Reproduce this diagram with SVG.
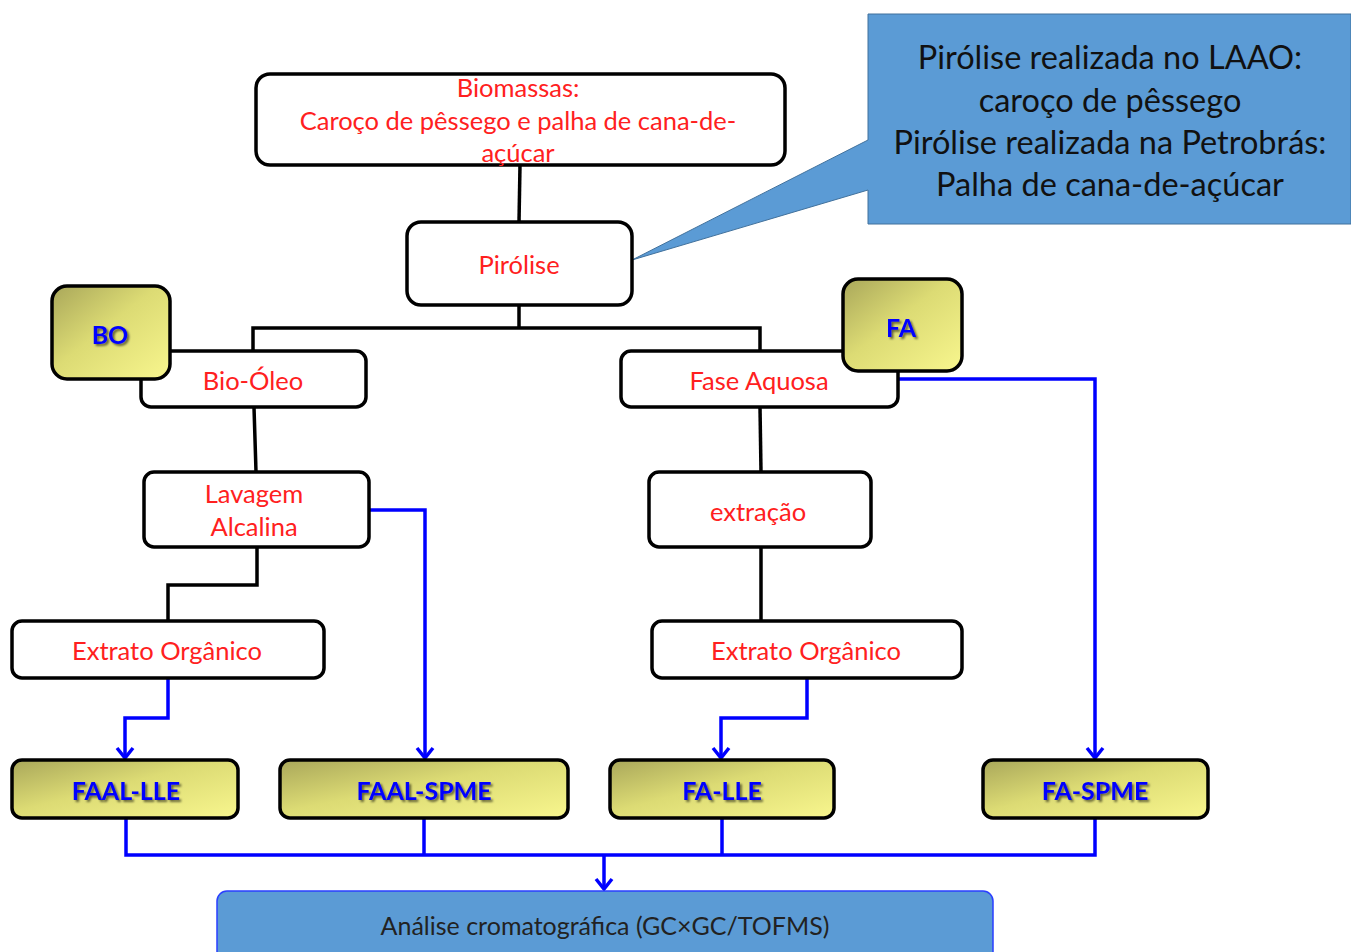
<svg xmlns="http://www.w3.org/2000/svg" width="1351" height="952" viewBox="0 0 1351 952">
<defs>
<linearGradient id="olive" x1="0" y1="0" x2="1" y2="1">
<stop offset="0" stop-color="#a9a75a"/>
<stop offset="0.45" stop-color="#dcdb74"/>
<stop offset="1" stop-color="#f8f68e"/>
</linearGradient>
<filter id="sh" x="-20%" y="-20%" width="140%" height="140%">
<feGaussianBlur in="SourceAlpha" stdDeviation="1"/>
<feOffset dx="1.5" dy="1.5" result="b"/>
<feFlood flood-color="#000" flood-opacity="0.55"/>
<feComposite in2="b" operator="in"/>
<feMerge><feMergeNode/><feMergeNode in="SourceGraphic"/></feMerge>
</filter>
<marker id="arr" viewBox="0 0 16 20" refX="14" refY="10" markerWidth="16" markerHeight="20" markerUnits="userSpaceOnUse" orient="auto">
<path d="M4,2 L14,10 L4,18" fill="none" stroke="#0000ff" stroke-width="3.5"/>
</marker>
<style>
.box{fill:#fff;stroke:#000;stroke-width:3.5}
.ol{fill:url(#olive);stroke:#000;stroke-width:3.5}
.red{font-family:Lato,"Open Sans",sans-serif;font-size:25.5px;fill:#ff2020;text-anchor:middle;dominant-baseline:central}
.bl{font-family:Lato,"Open Sans",sans-serif;font-size:25px;font-weight:bold;fill:#0000ff;text-anchor:middle;dominant-baseline:central;filter:url(#sh)}
.call{font-family:Lato,"Open Sans",sans-serif;font-size:32.5px;fill:#111;text-anchor:middle;dominant-baseline:central}
.k{fill:none;stroke:#000;stroke-width:3.5}
.b{fill:none;stroke:#0000ff;stroke-width:3.5}
</style>
</defs>
<g id="connectors">
<path class="k" d="M520,165 L519,222"/>
<path class="k" d="M519,305 L519,328 M253,351 L253,328 L760,328 L760,351"/>
<path class="k" d="M254,407 L256,472"/>
<path class="k" d="M257,547 L257,585 L168,585 L168,621"/>
<path class="k" d="M760,407 L761,472"/>
<path class="k" d="M761,547 L761,621"/>
<path class="b" d="M168,678 L168,718 L125,718 L125,758" marker-end="url(#arr)"/>
<path class="b" d="M369,510 L425,510 L425,758" marker-end="url(#arr)"/>
<path class="b" d="M807,678 L807,718 L721,718 L721,758" marker-end="url(#arr)"/>
<path class="b" d="M898,379 L1095,379 L1095,758" marker-end="url(#arr)"/>
<path class="b" d="M126,818 L126,855 L1095,855 L1095,818 M424,818 L424,855 M722,818 L722,855"/>
<path class="b" d="M604,855 L604,889" marker-end="url(#arr)"/>
</g>
<g id="callout">
<path d="M868,14 L1351,14 L1351,224 L868,224 L868,190 L632,260 L868,140 Z" fill="#5b9bd5" stroke="#41719c" stroke-width="1"/>
<text class="call" x="1110" y="56">Pirólise realizada no LAAO:</text>
<text class="call" x="1110" y="99">caroço de pêssego</text>
<text class="call" x="1110" y="141">Pirólise realizada na Petrobrás:</text>
<text class="call" x="1110" y="183">Palha de cana-de-açúcar</text>
</g>
<g id="biomassas">
<rect class="box" x="256" y="74" width="529" height="91" rx="14"/>
<text class="red" x="518" y="87">Biomassas:</text>
<text class="red" x="518" y="120">Caroço de pêssego e palha de cana-de-</text>
<text class="red" x="518" y="152">açúcar</text>
</g>
<g id="pirolise">
<rect class="box" x="407" y="222" width="225" height="83" rx="14"/>
<text class="red" x="519" y="264">Pirólise</text>
</g>
<g id="bio-oleo">
<rect class="box" x="141" y="351" width="225" height="56" rx="10"/>
<text class="red" x="253" y="380">Bio-Óleo</text>
</g>
<g id="bo">
<rect class="ol" x="52" y="286" width="118" height="93" rx="15"/>
<text class="bl" x="110" y="334">BO</text>
</g>
<g id="fase-aquosa">
<rect class="box" x="621" y="351" width="277" height="56" rx="10"/>
<text class="red" x="759" y="380">Fase Aquosa</text>
</g>
<g id="fa">
<rect class="ol" x="843" y="279" width="119" height="92" rx="15"/>
<text class="bl" x="901" y="327">FA</text>
</g>
<g id="lavagem">
<rect class="box" x="144" y="472" width="225" height="75" rx="10"/>
<text class="red" x="254" y="493">Lavagem</text>
<text class="red" x="254" y="526">Alcalina</text>
</g>
<g id="extracao">
<rect class="box" x="649" y="472" width="222" height="75" rx="10"/>
<text class="red" x="758" y="511">extração</text>
</g>
<g id="extrato-left">
<rect class="box" x="12" y="621" width="312" height="57" rx="10"/>
<text class="red" x="167" y="650">Extrato Orgânico</text>
</g>
<g id="extrato-right">
<rect class="box" x="652" y="621" width="310" height="57" rx="10"/>
<text class="red" x="806" y="650">Extrato Orgânico</text>
</g>
<g id="faal-lle">
<rect class="ol" x="12" y="760" width="226" height="58" rx="10"/>
<text class="bl" x="126" y="790">FAAL-LLE</text>
</g>
<g id="faal-spme">
<rect class="ol" x="280" y="760" width="288" height="58" rx="10"/>
<text class="bl" x="424" y="790">FAAL-SPME</text>
</g>
<g id="fa-lle">
<rect class="ol" x="610" y="760" width="224" height="58" rx="10"/>
<text class="bl" x="722" y="790">FA-LLE</text>
</g>
<g id="fa-spme">
<rect class="ol" x="983" y="760" width="225" height="58" rx="10"/>
<text class="bl" x="1095" y="790">FA-SPME</text>
</g>
<g id="analise">
<rect x="217" y="891" width="776" height="80" rx="10" fill="#5b9bd5" stroke="#2a3fff" stroke-width="1.5"/>
<text x="605" y="925" font-family="Lato,'Open Sans',sans-serif" font-size="25" fill="#222" text-anchor="middle" dominant-baseline="central">Análise cromatográfica (GC×GC/TOFMS)</text>
</g>
</svg>
